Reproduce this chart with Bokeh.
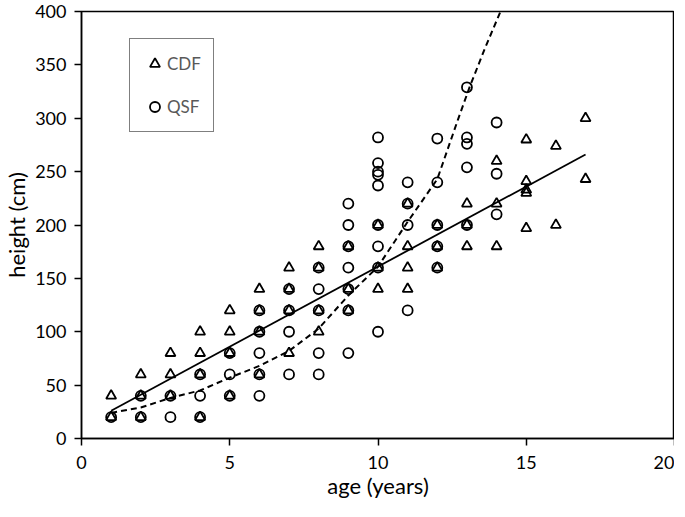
from bokeh.plotting import figure
from bokeh.models import Range1d, FixedTicker, Legend, LegendItem
from bokeh.embed import file_html
from bokeh.resources import INLINE

# ---- data ----
cdf_age = [1, 1,
           2, 2, 2,
           3, 3, 3,
           4, 4, 4, 4,
           5, 5, 5, 5,
           6, 6, 6, 6,
           7, 7, 7, 7,
           8, 8, 8, 8,
           9, 9, 9,
           10, 10, 10,
           11, 11, 11, 11,
           12, 12, 12,
           13, 13, 13,
           14, 14, 14,
           15, 15, 15, 15, 15,
           16, 16,
           17, 17]
cdf_height = [40, 20,
              60, 40, 20,
              80, 60, 40,
              100, 80, 60, 20,
              120, 100, 80, 40,
              140, 120, 100, 60,
              160, 140, 120, 80,
              180, 160, 120, 100,
              180, 140, 120,
              200, 160, 140,
              220, 180, 160, 140,
              200, 180, 160,
              220, 200, 180,
              260, 220, 180,
              280, 241, 233, 230, 197,
              274, 200,
              300, 243]

qsf_age = [1,
           2, 2,
           3, 3,
           4, 4, 4,
           5, 5, 5,
           6, 6, 6, 6, 6,
           7, 7, 7, 7,
           8, 8, 8, 8, 8,
           9, 9, 9, 9, 9, 9, 9,
           10, 10, 10, 10, 10, 10, 10, 10, 10,
           11, 11, 11, 11,
           12, 12, 12, 12, 12,
           13, 13, 13, 13, 13,
           14, 14, 14]
qsf_height = [20,
              40, 20,
              40, 20,
              60, 40, 20,
              80, 60, 40,
              120, 100, 80, 60, 40,
              140, 120, 100, 60,
              160, 140, 120, 80, 60,
              220, 200, 180, 160, 140, 120, 80,
              282, 258, 250, 247, 237, 200, 180, 160, 100,
              240, 220, 200, 120,
              281, 240, 200, 180, 160,
              329, 282, 276, 254, 200,
              296, 248, 210]

# trend lines
cdf_trend_age = [1, 17]
cdf_trend_height = [26, 266]
qsf_trend_age = [1, 2, 3, 4, 5, 6, 7, 8, 9, 10, 11, 12, 12.4, 12.7, 13.1, 13.6, 14.13]
qsf_trend_height = [24, 29, 38, 45, 57, 68, 82, 103, 134, 161, 203, 243, 275, 299, 330, 365, 400]

x_ticks = [0, 5, 10, 15, 20]
y_ticks = [0, 50, 100, 150, 200, 250, 300, 350, 400]

FONT = "Lato"

p = figure(width=674, height=501, output_backend="svg", toolbar_location=None,
           x_range=Range1d(0, 20), y_range=Range1d(0, 400),
           min_border_left=60, min_border_right=0, min_border_top=11, min_border_bottom=50)

p.xgrid.visible = False
p.ygrid.visible = False
p.outline_line_color = "black"
p.outline_line_width = 1.5
p.background_fill_color = "white"
p.border_fill_color = "white"

for ax in (p.xaxis[0], p.yaxis[0]):
    ax.axis_line_color = "black"
    ax.axis_line_width = 1.5
    ax.major_tick_line_color = "black"
    ax.major_tick_line_width = 1.5
    ax.major_tick_in = 0
    ax.major_tick_out = 7
    ax.minor_tick_line_color = None
    ax.major_label_text_font = FONT
    ax.major_label_text_font_size = "18px"
    ax.major_label_text_color = "black"
    ax.axis_label_text_font = FONT
    ax.axis_label_text_font_size = "22px"
    ax.axis_label_text_font_style = "normal"
    ax.axis_label_text_color = "black"

p.xaxis.ticker = FixedTicker(ticks=x_ticks)
p.yaxis.ticker = FixedTicker(ticks=y_ticks)
p.xaxis.axis_label = "age (years)"
p.yaxis.axis_label = "height (cm)"
p.xaxis.major_label_standoff = 10
p.yaxis.major_label_standoff = 8
p.xaxis.axis_label_standoff = 0
p.yaxis.axis_label_standoff = 2

# trend lines
p.line(cdf_trend_age, cdf_trend_height, line_color="black", line_width=1.8)
p.line(qsf_trend_age, qsf_trend_height, line_color="black", line_width=2, line_dash="6 4")

# scatter
r_cdf = p.scatter(cdf_age, cdf_height, marker="triangle", size=10,
                  fill_color=None, line_color="black", line_width=1.8)
r_qsf = p.scatter(qsf_age, qsf_height, marker="circle", size=10,
                  fill_color=None, line_color="black", line_width=1.8)

legend = Legend(items=[LegendItem(label="CDF", renderers=[r_cdf]),
                       LegendItem(label="QSF", renderers=[r_qsf])],
                location=(48, 306))
legend.label_text_font = FONT
legend.label_text_font_size = "17px"
legend.label_text_color = "#595959"
legend.glyph_width = 25
legend.glyph_height = 25
legend.label_height = 25
legend.label_standoff = 0
legend.spacing = 18
legend.padding = 12
legend.margin = 0
legend.border_line_color = "black"
legend.border_line_width = 1.5
legend.background_fill_alpha = 1.0
p.add_layout(legend)

open("out.html", "w").write(file_html(p, INLINE))
